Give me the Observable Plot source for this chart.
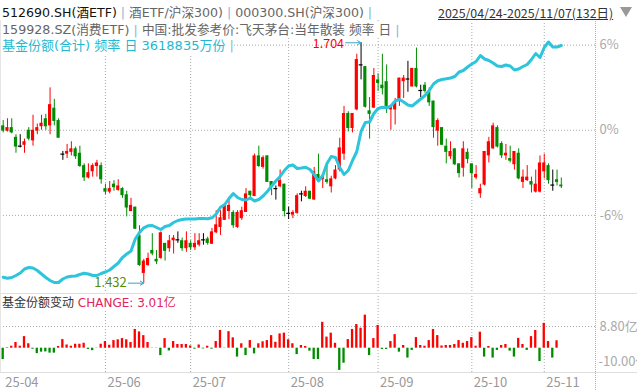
<!DOCTYPE html>
<html><head><meta charset="utf-8">
<script src="https://cdn.jsdelivr.net/npm/d3@7"></script>
<script src="https://cdn.jsdelivr.net/npm/@observablehq/plot@0.6"></script>
<style>
body{margin:0;background:#fff;}
#wrap{position:relative;width:637px;height:390px;overflow:hidden;background:#fff;font-family:"Noto Sans CJK SC","Microsoft YaHei",sans-serif;}
#wrap svg{position:absolute;left:0;overflow:visible;}
.hdr{position:absolute;left:2px;font-family:"DejaVu Sans","Noto Sans CJK SC",sans-serif;font-size:13px;line-height:16px;height:16px;white-space:nowrap;z-index:5;}
.hdr span{display:inline-block;height:16px;line-height:16px;background:#fff;vertical-align:top;white-space:pre;}
.pipe{color:#8fb3d6;}
.gray{color:#666;}
.cy{color:#1fb8d0;}
</style></head><body><div id="wrap"></div>
<script>
// ---- data ----
const opens = [1.610,1.604,1.608,1.597,1.587,1.588,1.605,1.593,1.604,1.609,
1.618,1.610,1.630,1.616,1.578,1.578,1.580,1.584,1.579,1.565,
1.551,1.558,1.564,1.565,1.539,1.535,1.544,1.537,1.539,1.532,
1.513,1.518,1.486,1.443,1.452,1.469,1.459,1.460,1.477,1.471,
1.480,1.481,1.480,1.471,1.477,1.472,1.475,1.481,1.482,1.476,
1.489,1.495,1.503,1.513,1.512,1.495,1.505,1.512,1.536,1.530,
1.576,1.563,1.576,1.547,1.539,1.541,1.544,1.511,1.509,1.511,
1.533,1.530,1.536,1.526,1.555,1.549,1.549,1.541,1.550,1.560,
1.578,1.624,1.607,1.628,1.679,1.677,1.627,1.630,1.662,1.656,
1.660,1.628,1.628,1.640,1.660,1.663,1.654,1.675,1.650,1.656,
1.649,1.638,1.604,1.608,1.587,1.575,1.584,1.567,1.562,1.580,
1.567,1.551,1.533,1.543,1.576,1.584,1.608,1.590,1.576,1.573,
1.566,1.579,1.546,1.548,1.547,1.535,1.535,1.558,1.565,1.543,
1.549,1.543];
const closes = [1.604,1.608,1.602,1.586,1.587,1.592,1.595,1.605,1.608,1.613,
1.609,1.634,1.615,1.596,1.578,1.581,1.584,1.575,1.564,1.551,
1.557,1.565,1.568,1.549,1.535,1.539,1.540,1.542,1.531,1.517,
1.520,1.493,1.452,1.457,1.460,1.465,1.456,1.489,1.468,1.480,
1.483,1.481,1.471,1.480,1.472,1.477,1.480,1.481,1.477,1.490,
1.498,1.506,1.520,1.520,1.497,1.512,1.514,1.533,1.531,1.576,
1.564,1.574,1.546,1.541,1.539,1.548,1.513,1.511,1.512,1.531,
1.533,1.536,1.527,1.558,1.548,1.552,1.546,1.550,1.560,1.585,
1.624,1.607,1.624,1.685,1.679,1.631,1.623,1.667,1.658,1.652,
1.632,1.632,1.637,1.664,1.664,1.663,1.675,1.654,1.650,1.649,
1.636,1.608,1.616,1.588,1.580,1.581,1.566,1.556,1.584,1.572,
1.556,1.555,1.539,1.581,1.592,1.610,1.586,1.576,1.579,1.570,
1.581,1.550,1.552,1.552,1.543,1.544,1.568,1.568,1.548,1.543,
1.546,1.541];
const highs = [1.616,1.618,1.618,1.600,1.600,1.595,1.608,1.622,1.612,1.622,
1.623,1.653,1.640,1.618,1.581,1.589,1.592,1.586,1.587,1.567,
1.567,1.567,1.571,1.568,1.544,1.547,1.548,1.549,1.540,1.536,
1.528,1.518,1.497,1.459,1.466,1.488,1.469,1.490,1.477,1.486,
1.486,1.490,1.483,1.490,1.480,1.488,1.488,1.488,1.484,1.494,
1.514,1.514,1.522,1.529,1.514,1.514,1.518,1.539,1.536,1.578,
1.587,1.576,1.576,1.547,1.542,1.560,1.544,1.518,1.514,1.533,
1.536,1.541,1.536,1.563,1.578,1.556,1.565,1.553,1.565,1.596,
1.632,1.626,1.624,1.691,1.704,1.677,1.642,1.675,1.669,1.691,
1.679,1.632,1.641,1.664,1.667,1.683,1.675,1.698,1.656,1.659,
1.653,1.638,1.618,1.608,1.595,1.592,1.584,1.567,1.592,1.584,
1.567,1.565,1.544,1.581,1.597,1.613,1.610,1.592,1.589,1.587,
1.581,1.584,1.560,1.565,1.552,1.560,1.576,1.578,1.567,1.560,
1.560,1.551];
const lows = [1.602,1.603,1.601,1.579,1.585,1.579,1.593,1.587,1.600,1.605,
1.605,1.600,1.610,1.596,1.571,1.573,1.576,1.572,1.563,1.547,
1.550,1.552,1.552,1.544,1.532,1.533,1.536,1.536,1.528,1.507,
1.513,1.493,1.451,1.432,1.451,1.463,1.453,1.459,1.457,1.467,
1.465,1.477,1.468,1.467,1.469,1.469,1.473,1.475,1.475,1.476,
1.488,1.486,1.503,1.504,1.494,1.494,1.503,1.512,1.526,1.530,
1.563,1.561,1.546,1.531,1.526,1.540,1.507,1.504,1.505,1.510,
1.524,1.529,1.527,1.526,1.546,1.539,1.544,1.534,1.549,1.558,
1.571,1.603,1.602,1.627,1.662,1.630,1.595,1.630,1.649,1.645,
1.624,1.605,1.611,1.632,1.641,1.648,1.654,1.653,1.642,1.647,
1.632,1.596,1.587,1.588,1.567,1.572,1.565,1.551,1.552,1.567,
1.539,1.549,1.528,1.542,1.568,1.583,1.585,1.573,1.571,1.568,
1.560,1.549,1.539,1.547,1.534,1.534,1.534,1.550,1.544,1.536,
1.542,1.539];
// 基金份额(合计), 万份
const shares = [1568290,1559440,1565635,1583335,1605460,1640860,1654135,1649710,1627585,1596610,
1565635,1539085,1521385,1521385,1552360,1570060,1577140,1578910,1592185,1603690,
1596610,1583335,1583335,1601035,1614310,1632010,1662985,1693960,1742635,1773610,
1800160,1906360,1963885,2005480,2023180,2025835,2008135,1990435,2016985,2025835,
2052385,2070085,2078935,2083360,2083360,2083360,2087785,2087785,2085130,2093980,
2127610,2187790,2211685,2264785,2309035,2273635,2255935,2251510,2269210,2242660,
2255935,2286910,2326735,2375410,2419660,2459485,2512585,2552410,2561260,2530285,
2534710,2541790,2521435,2477185,2419660,2468335,2574535,2636485,2627635,2539135,
2477185,2512585,2601085,2680735,2857735,2937385,2941810,3017035,3061285,3071905,
3067480,3083410,3127660,3140935,3118810,3092260,3083410,3114385,3145360,3176335,
3220585,3278110,3306430,3317935,3324130,3331210,3344485,3384310,3397585,3428560,
3455110,3477235,3530335,3499360,3486085,3463960,3437410,3432985,3446260,3437410,
3402010,3410860,3432985,3450685,3494935,3548035,3512635,3601135,3649810,3605560,
3605560,3618835];
// 基金份额变动, 亿
const changes = [-4.6,0.2,0.8,2.3,0.8,4.7,1.8,-0.4,-2.2,-1.6,
-1.5,-2.0,-2.0,0.7,3.5,1.3,0.8,1.6,1.6,2.0,
-0.5,-1.0,-0.1,1.6,2.7,1.2,3.1,3.4,3.9,3.4,
2.3,7.6,6.6,5.1,2.3,0.1,-0.1,-3.0,3.9,-1.1,
2.7,1.5,1.5,1.5,0.9,-0.4,1.3,-0.3,0.8,-0.4,
2.7,7.2,0.1,6.7,4.2,-3.6,1.8,-3.0,3.1,-2.3,
1.8,2.6,3.1,5.1,2.4,5.8,6.1,3.4,1.8,-2.6,
1.1,0.7,-1.2,-4.6,-4.6,10.5,4.5,6.1,2.0,-9.0,
-6.1,3.5,7.6,9.6,8.1,13.4,-3.0,3.9,9.2,-0.5,
-0.5,2.7,5.5,-1.6,1.1,-4.0,-0.9,4.3,1.1,0.8,
3.1,7.6,5.1,0.9,1.1,1.1,1.5,3.1,2.0,2.7,
4.3,0.8,6.5,-3.6,0.7,-4.0,-0.9,1.1,1.5,-1.2,
-3.6,4.0,1.5,-0.9,4.7,7.2,-5.4,10.1,2.7,-4.0,
3.01,null];
const monthIdx = [0,24,44,67,88,110,127];
const monthLabels = ["25-04","25-06","25-07","25-08","25-09","25-10","25-11"];
const pctTicks = [6,0,-6];
const basePrice = 1.605;
const changeTicks = [8.8];
const changeLowTick = -10;
const dateRange = "2025/04/24-2025/11/07(132日)";

// ---- build ----
const W = 637;
const FONT = '"Noto Sans CJK SC","Microsoft YaHei",sans-serif';
const RED = "#ff0000", GREEN = "#008c00";
const candles = opens.map((o,i)=>({i, open:o, close:closes[i], high:highs[i], low:lows[i]}));
const col = d => d.close > d.open ? RED : d.close < d.open ? GREEN : "#000";
const xCfg = {domain:[0, candles.length-1], range:[2.7, 560.8], axis:null, label:null};
const hi = candles.reduce((a,b)=> b.high > a.high ? b : a);
const lo = candles.reduce((a,b)=> b.low < a.low ? b : a);
const gridMonths = monthIdx.slice(1);
const dot = {stroke:"#a8a8a8", strokeDasharray:"1,2", strokeWidth:1};

const main = Plot.plot({
  width: W, height: 293, marginTop: 20, marginBottom: 0, marginLeft: 0, marginRight: 42,
  x: xCfg,
  y: {domain: [1.4203, 1.7292], axis: null, label: null},
  style: {fontFamily: FONT, fontSize: "13px", color: "#aaa", background: "transparent"},
  marks: [
    Plot.ruleY(pctTicks, {y: p => basePrice*(1+p/100), ...dot}),
    Plot.ruleX(gridMonths, {x: d=>d, ...dot}),
    Plot.ruleX(candles, {x:"i", y1:"low", y2:"high", stroke: col, strokeWidth:1}),
    Plot.rect(candles.filter(d=>d.open!==d.close), {x1: d=>d.i-0.37, x2: d=>d.i+0.37, y1:"open", y2:"close", fill: col}),
    Plot.ruleY(candles.filter(d=>d.open===d.close), {y:"close", x1: d=>d.i-0.45, x2: d=>d.i+0.45, stroke:"#000", strokeWidth:1.2}),
    Plot.axisY(pctTicks.map(p=>basePrice*(1+p/100)), {anchor:"right", label:null, tickSize:0, tickPadding:4, tickFormat: d => Math.round((d/basePrice-1)*100)+"%", fill:"#aaa"}),
    Plot.text([hi], {x:"i", y:"high", text: d=>d.high.toFixed(3), dx:-17, dy:1.5, textAnchor:"end", fill:"#f00", fontSize:12.5}),
    Plot.arrow([hi], {x1: d=>d.i-3.6, x2: d=>d.i, y1:"high", y2:"high", stroke:"#35a6c4", headLength:6, strokeWidth:1}),
    Plot.text([lo], {x:"i", y:"low", text: d=>d.low.toFixed(3), dx:-17, textAnchor:"end", fill:"#5a8c00", fontSize:13}),
    Plot.arrow([lo], {x1: d=>d.i-3.6, x2: d=>d.i, y1:"low", y2:"low", stroke:"#35a6c4", headLength:6, strokeWidth:1})
  ]
});
main.style.top = "0px"; main.style.zIndex = 1;

const lineSvg = Plot.plot({
  width: W, height: 293, margin: 0,
  x: xCfg,
  y: {range: [282, 41.5], axis: null, label: null},
  style: {background: "transparent"},
  marks: [Plot.line(shares, {x: (d,i)=>i, y: d=>d, stroke:"#2cc5db", strokeWidth:3})]
});
lineSvg.style.top = "0px"; lineSvg.style.zIndex = 2;

const chg = changes.map((v,i)=>({i, v})).filter(d=>d.v!=null);
const lower = Plot.plot({
  width: W, height: 97, marginTop: 0, marginBottom: 18, marginLeft: 0, marginRight: 42,
  x: xCfg,
  y: {domain: [-9.854, 22.18], axis: null, label: null},
  style: {fontFamily: FONT, fontSize: "13px", color: "#aaa", background: "transparent"},
  marks: [
    Plot.ruleY(changeTicks, {y: d=>d, ...dot}),
    Plot.ruleX(gridMonths, {x: d=>d, ...dot}),
    Plot.rect(chg, {x1: d=>d.i-0.27, x2: d=>d.i+0.27, y1: ()=>0, y2: d=>d.v, fill: d=> d.v>=0 ? RED : GREEN}),
    Plot.axisY(changeTicks, {anchor:"right", label:null, tickSize:0, tickPadding:4, tickFormat: d=>d.toFixed(2)+"亿", fill:"#aaa"}),
    Plot.text([changeLowTick], {y: d=>d, frameAnchor:"right", dx:3, dy:-11, textAnchor:"start", text: d=>d.toFixed(2)+"亿", fill:"#aaa", fontSize:13}),
    Plot.axisX(monthIdx, {anchor:"bottom", label:null, tickSize:0, tickPadding:5, textAnchor:"start", dx:2, fill:"#999", tickFormat: d => monthLabels[monthIdx.indexOf(d)]})
  ]
});
lower.style.top = "293px"; lower.style.zIndex = 1;

const wrap = document.getElementById("wrap");
wrap.append(main, lineSvg, lower);

function addDiv(css, html){ const e=document.createElement("div"); e.style.cssText=css; if(html!=null) e.innerHTML=html; wrap.append(e); return e; }
// frame lines
addDiv("position:absolute;left:0;top:293px;width:637px;border-top:1px solid #dedede;z-index:3;");
addDiv("position:absolute;left:0;top:372px;width:637px;border-top:1px solid #dedede;z-index:3;");
addDiv("position:absolute;left:595px;top:20px;height:370px;border-left:1px dotted #b0b0b0;z-index:3;");
addDiv("position:absolute;left:0;top:20px;height:352px;border-left:1px solid #e6e6e6;z-index:3;");

// header
const lastShares = shares[shares.length-1];
const lastChange = changes.filter(v=>v!=null).slice(-1)[0];
const h1 = addDiv("top:5px;", '<span style="color:#111">512690.SH(酒ETF)</span><span class="pipe"> | </span><span class="gray">酒ETF/沪深300)</span><span class="pipe"> | </span><span class="gray">000300.SH(沪深300)</span><span class="pipe"> |</span>');
h1.className="hdr"; h1.style.fontSize="12.6px";
const h2 = addDiv("top:22px;", '<span class="gray">159928.SZ(消费ETF)</span><span class="pipe"> | </span><span class="gray">中国:批发参考价:飞天茅台:当年散装 频率 日</span><span class="pipe"> |</span>');
h2.className="hdr"; h2.style.fontSize="12.7px";
const h3 = addDiv("top:38px;", '<span class="cy">基金份额(合计) 频率 日 '+lastShares+'万份</span><span class="pipe"> |</span>');
h3.className="hdr";
const hd = addDiv("left:438px;top:5px;", '<span style="color:#333;text-decoration:underline;">'+dateRange+'</span>');
hd.className="hdr"; hd.style.fontFamily='"Noto Sans CJK SC",sans-serif'; hd.style.fontSize="12.4px";
addDiv("position:absolute;left:620px;top:7px;width:0;height:0;border-left:6px solid transparent;border-right:6px solid transparent;border-top:10px solid #999;z-index:6;");
// lower title
const lt = addDiv("left:2px;top:295px;", '<span style="color:#333">基金份额变动 </span><span style="color:#e3245c">CHANGE: '+lastChange.toFixed(2)+'亿</span>');
lt.className="hdr"; lt.style.fontSize="12px";
</script></body></html>
